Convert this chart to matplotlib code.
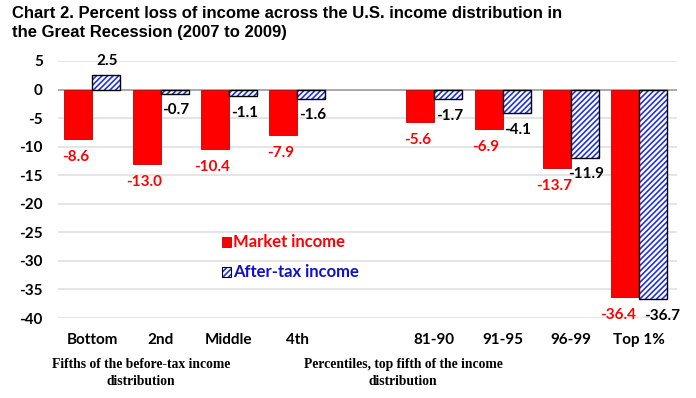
import matplotlib.pyplot as plt
import numpy as np

groups = ['Bottom', '2nd', 'Middle', '4th', '', '81-90', '91-95', '96-99', 'Top 1%']
market = [-8.6, -13.0, -10.4, -7.9, None, -5.6, -6.9, -13.7, -36.4]
aftertax = [2.5, -0.7, -1.1, -1.6, None, -1.7, -4.1, -11.9, -36.7]
yticks = [5, 0, -5, -10, -15, -20, -25, -30, -35, -40]

sans = ['Lato', 'DejaVu Sans']
serif = ['Liberation Serif', 'DejaVu Serif']
plt.rcParams['font.family'] = sans
plt.rcParams['hatch.linewidth'] = 1.2

fig = plt.figure(figsize=(6.96, 3.98), dpi=100)
ax = fig.add_axes([58/696, 80/398, 619/696, 257/398])

idx = [i for i, m in enumerate(market) if m is not None]
x = np.array(idx, dtype=float)
m = np.array([market[i] for i in idx])
a = np.array([aftertax[i] for i in idx])
w = 0.41

ax.bar(x - w/2, m, w, color='#ff0000', edgecolor='#c00000', linewidth=0.6, zorder=3)
ax.bar(x + w/2, a, w, color='white', edgecolor='#2233dd', hatch='//////', linewidth=0, zorder=3)
ax.bar(x + w/2, a, w, fill=False, edgecolor='black', linewidth=1.0, zorder=4)

last = len(x) - 1
for k, (xi, v) in enumerate(zip(x, m)):
    dx = -5 if k == last else -2
    ax.annotate(f'{v:.1f}', (xi - w/2, v), xytext=(dx, -13), textcoords='offset points',
                ha='center', va='center', color='#ff0000', fontsize=11, fontweight='bold')
for k, (xi, v) in enumerate(zip(x, a)):
    off = 10 if v > 0 else -12
    dx = 6 if k == last else 1
    ax.annotate(f'{v:.1f}', (xi + w/2, v), xytext=(dx, off), textcoords='offset points',
                ha='center', va='center', color='black', fontsize=11, fontweight='bold')

ax.set_xlim(-0.5, 8.55)
ax.set_ylim(-40, 5)
ax.set_yticks(yticks)
ax.set_yticklabels([str(t) for t in yticks], fontsize=11, fontweight='bold')
ax.set_xticks(x)
ax.set_xticklabels([groups[i] for i in idx], fontsize=11, fontweight='bold')
ax.tick_params(axis='both', length=0)
ax.tick_params(axis='y', pad=11)
ax.tick_params(axis='x', pad=11)
for s in ax.spines.values():
    s.set_visible(False)
ax.grid(axis='y', color='#e0e0e0', linewidth=1.2, zorder=0)
ax.axhline(0, color='#a0a0a0', linewidth=1.2, zorder=2)

fig.text(12/696, 1 - 6/398, 'Chart 2. Percent loss of income across the U.S. income distribution in\nthe Great Recession (2007 to 2009)',
         ha='left', va='top', fontsize=12, fontweight='bold', family=['Liberation Sans', 'DejaVu Sans'],
         linespacing=1.3)

fig.text(141/696, 1 - 373/398, 'Fifths of the before-tax income\ndistribution', ha='center', va='center',
         fontsize=9.8, fontweight='bold', family=serif, linespacing=1.35)
fig.text(403/696, 1 - 373/398, 'Percentiles, top fifth of the income\ndistribution', ha='center', va='center',
         fontsize=9.8, fontweight='bold', family=serif, linespacing=1.35)

# legend drawn by hand
fig.patches.append(plt.Rectangle((222/696, 1 - 247/398), 9/696, 10/398, transform=fig.transFigure,
                                 facecolor='#ff0000', edgecolor='#c00000', linewidth=0.6))
fig.text(233/696, 1 - 242/398, 'Market income', ha='left', va='center', color='#ff0000',
         fontsize=12, fontweight='bold')
fig.patches.append(plt.Rectangle((222/696, 1 - 277/398), 9/696, 10/398, transform=fig.transFigure,
                                 facecolor='white', edgecolor='#2233dd', hatch='//////', linewidth=0))
fig.patches.append(plt.Rectangle((222/696, 1 - 277/398), 9/696, 10/398, transform=fig.transFigure,
                                 fill=False, edgecolor='black', linewidth=0.8))
fig.text(233/696, 1 - 272/398, 'After-tax income', ha='left', va='center', color='#1010cc',
         fontsize=12, fontweight='bold')

fig.savefig('out.png', dpi=100)
